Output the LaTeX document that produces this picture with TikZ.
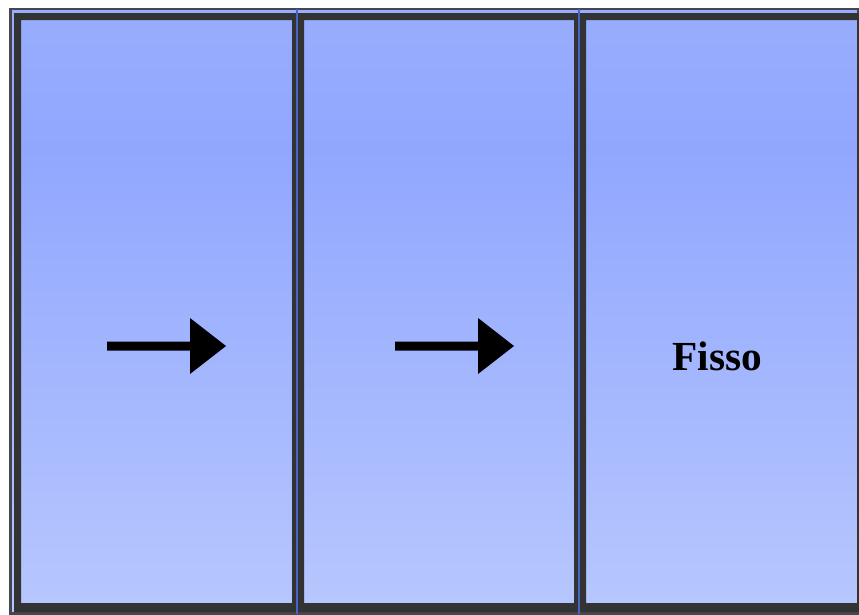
\documentclass[tikz,border=0pt]{standalone}
\usepackage{fontspec}
\setmainfont{Liberation Serif}

\definecolor{frameGrey}{RGB}{51,51,51}
\definecolor{edgeGrey}{RGB}{70,70,80}
\definecolor{divBlue}{RGB}{70,100,200}
\definecolor{glassTop}{RGB}{152,173,253}
\definecolor{glassMid}{RGB}{145,167,254}
\definecolor{glassBot}{RGB}{183,199,254}

\tikzset{every picture/.style={line width=0.75pt}}
\tikzset{
  sashframe/.style={fill=frameGrey, even odd rule},
  divider/.style={draw=divBlue, line width=1.5},
  pushmark/.style={fill=black, draw=none},
}

\begin{document}
\begin{tikzpicture}[x=0.75pt,y=0.75pt,yscale=-1,xscale=1]
        \useasboundingbox (0,0) rectangle (859,614);
        \fill[white] (0,0) rectangle (859,614);
        % glass
        \shade[top color=glassTop, bottom color=glassMid] (11,9) rectangle (859,150);
        \shade[top color=glassMid, bottom color=glassBot] (11,149.5) rectangle (859,614);
        % outer edge
        \draw[edgeGrey, line width=1.8] (10.5,9.2) rectangle (858,613.3);
        % sashes
        \fill[sashframe] (14,13) rectangle (296,612) (21,20) rectangle (292,603);
        \fill[sashframe] (298,13) rectangle (578,612) (304,20) rectangle (574,603);
        \fill[sashframe] (580,13) rectangle (859,612) (586,20) rectangle (857,603);
        % dividers
        \draw[divider] (297,9) -- (297,614);
        \draw[divider] (579,9) -- (579,614);
        % arrows
        \foreach \dx in {0,288} {
          \fill[pushmark] (107+\dx,341.5) -- (190+\dx,341.5) -- (190+\dx,318) -- (226+\dx,346)
            -- (190+\dx,374) -- (190+\dx,350.5) -- (107+\dx,350.5) -- cycle;
        }
        % Text Node
        \node[font=\fontsize{31}{36}\selectfont\bfseries] (fisso) at (717.5,356) {Fisso};
\end{tikzpicture}
\end{document}
